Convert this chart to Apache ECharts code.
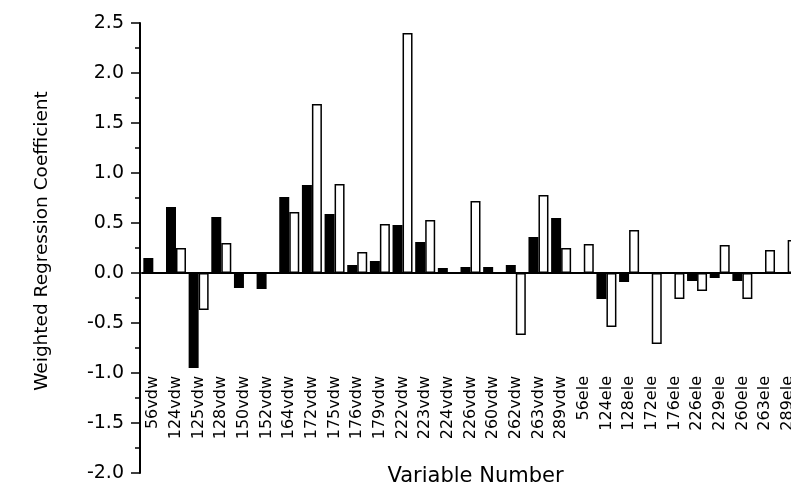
<!DOCTYPE html>
<html>
<head>
<meta charset="utf-8">
<script src="https://cdn.jsdelivr.net/npm/echarts@6/dist/echarts.min.js"></script>
<style>
html, body { margin: 0; padding: 0; background: #fff; }
#chart { width: 791px; height: 485px; }
</style>
</head>
<body>
<div id="chart"></div>
<script>
// Variable names along the x axis
var variables = ['56vdw', '124vdw', '125vdw', '128vdw', '150vdw', '152vdw', '164vdw', '172vdw',
    '175vdw', '176vdw', '179vdw', '222vdw', '223vdw', '224vdw', '226vdw', '260vdw', '262vdw',
    '263vdw', '289vdw', '56ele', '124ele', '128ele', '172ele', '176ele', '226ele', '229ele',
    '260ele', '263ele', '289ele'];

// Filled (black) bars
var blackValues = [0.15, 0.66, -0.95, 0.56, -0.15, -0.16, 0.76, 0.88, 0.59, 0.08, 0.12, 0.48,
    0.31, 0.05, 0.06, 0.06, 0.08, 0.36, 0.55, 0, -0.26, -0.09, 0, 0, -0.08, -0.05, -0.08, 0, 0];

// Open (white) bars
var whiteValues = [0, 0.25, -0.37, 0.30, 0, 0, 0.61, 1.69, 0.89, 0.21, 0.49, 2.40, 0.53, 0, 0.72,
    0, -0.62, 0.78, 0.25, 0.29, -0.54, 0.43, -0.71, -0.26, -0.18, 0.28, -0.26, 0.23, 0.33];

// y axis range
var yMin = -2.0;
var yMax = 2.5;
var yStep = 0.5;

var myChart = echarts.init(document.getElementById('chart'));
var font = 'DejaVu Sans';

var option = {
    animation: false,
    backgroundColor: '#fff',
    grid: {
        left: 142,
        top: 23,
        width: 657,
        height: 450,
        containLabel: false,
        outerBoundsMode: 'none'
    },
    xAxis: {
        type: 'category',
        data: variables,
        name: 'Variable Number',
        nameLocation: 'middle',
        nameGap: -7,
        nameTextStyle: { fontFamily: font, fontSize: 21, color: '#000', padding: [0, 0, 0, 10] },
        axisLine: { onZero: true, lineStyle: { color: '#000', width: 2 } },
        axisTick: { show: false },
        // labels hang from just below -1.0 (v6 keeps them at the grid bottom)
        axisLabel: {
            rotate: 90,
            margin: -97,
            interval: 0,
            fontFamily: font,
            fontSize: 16,
            color: '#000'
        },
        splitLine: { show: false }
    },
    yAxis: {
        type: 'value',
        min: yMin,
        max: yMax,
        interval: yStep,
        offset: 2,
        name: 'Weighted Regression Coefficient',
        nameLocation: 'middle',
        nameGap: 88,
        nameTextStyle: { fontFamily: font, fontSize: 18.5, color: '#000', padding: [0, 0, 0, 14] },
        axisLine: { show: true, lineStyle: { color: '#000', width: 2 } },
        axisTick: { show: true, inside: false, length: 9, lineStyle: { color: '#000', width: 1.5 } },
        minorTick: { show: true, splitNumber: 2, length: 5, lineStyle: { color: '#000', width: 1.5 } },
        axisLabel: {
            margin: 16,
            fontFamily: font,
            fontSize: 19,
            color: '#000',
            formatter: function (v) { return v.toFixed(1); }
        },
        splitLine: { show: false }
    },
    series: [
        {
            name: 'black',
            type: 'bar',
            data: blackValues,
            barWidth: 10,
            barGap: '0%',
            itemStyle: { color: '#000' }
        },
        {
            name: 'white',
            type: 'bar',
            data: whiteValues,
            barWidth: 10,
            barGap: '0%',
            itemStyle: { color: '#fff', borderColor: '#000', borderWidth: 1.5 }
        }
    ]
};

myChart.setOption(option);
</script>
</body>
</html>
